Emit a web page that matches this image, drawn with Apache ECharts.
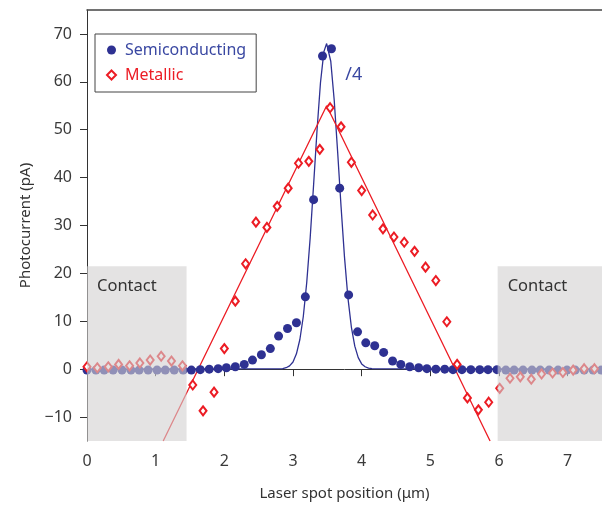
<!DOCTYPE html>
<html>
<head>
<meta charset="utf-8">
<script src="https://cdn.jsdelivr.net/npm/echarts@6/dist/echarts.min.js"></script>
<style>
  html, body { margin: 0; padding: 0; background: #fff; }
  #main { width: 602px; height: 507px; }
</style>
</head>
<body>
<div id="main"></div>
<script>
// semiconducting tube, measured points (plotted already divided by 4)
const semiX = [0, 0.13, 0.25, 0.38, 0.51, 0.64, 0.76, 0.89, 1.02, 1.14, 1.27, 1.40,
    1.52, 1.65, 1.78, 1.91, 2.03, 2.16, 2.29, 2.41, 2.54, 2.67, 2.79, 2.92, 3.05,
    3.18, 3.30, 3.43, 3.56, 3.68, 3.81, 3.94, 4.06, 4.19, 4.32, 4.45, 4.57, 4.70,
    4.83, 4.95, 5.08, 5.21, 5.33, 5.46, 5.59, 5.72, 5.84, 5.97, 6.10, 6.22, 6.35,
    6.48, 6.60, 6.73, 6.86, 6.99, 7.11, 7.24, 7.37, 7.49];
const semiY = [-0.2, -0.2, -0.2, -0.2, -0.2, -0.2, -0.2, -0.2, -0.2, -0.2, -0.2, -0.2,
    -0.2, -0.1, 0, 0.1, 0.3, 0.5, 1.0, 1.9, 3.0, 4.3, 6.9, 8.5, 9.7,
    15.1, 35.4, 65.4, 66.9, 37.8, 15.5, 7.8, 5.5, 4.9, 3.5, 1.7, 1.0, 0.5,
    0.3, 0.1, 0, 0, -0.1, -0.1, -0.1, -0.1, -0.1, -0.1, -0.2, -0.2, -0.2,
    -0.2, -0.2, -0.2, -0.2, -0.2, -0.2, -0.2, -0.2, -0.2];

// metallic tube, measured points
const metalX = [0, 0.15, 0.31, 0.46, 0.62, 0.77, 0.92, 1.08, 1.23, 1.39, 1.54, 1.69,
    1.85, 2.00, 2.16, 2.31, 2.46, 2.62, 2.77, 2.93, 3.08, 3.23, 3.39, 3.54, 3.70,
    3.85, 4.00, 4.16, 4.31, 4.47, 4.62, 4.77, 4.93, 5.08, 5.24, 5.39, 5.54, 5.70,
    5.85, 6.01, 6.16, 6.31, 6.47, 6.62, 6.78, 6.93, 7.08, 7.24, 7.39];
const metalY = [0.5, 0.3, 0.5, 1.0, 0.7, 1.3, 1.9, 2.7, 1.7, 0.7, -3.3, -8.7,
    -4.8, 4.3, 14.2, 22.0, 30.7, 29.6, 34.0, 37.8, 43.0, 43.4, 45.9, 54.6, 50.6,
    43.2, 37.3, 32.2, 29.3, 27.6, 26.5, 24.6, 21.3, 18.5, 9.9, 1.0, -6.0, -8.5,
    -6.9, -4.0, -1.9, -1.6, -2.1, -1.0, -0.8, -0.7, -0.2, 0.1, 0.1];

// fitted curves
const semiFitX = [0, 2.85, 2.9, 2.95, 3.0, 3.05, 3.1, 3.15, 3.2, 3.25, 3.3, 3.35, 3.4,
    3.45, 3.49, 3.55, 3.6, 3.65, 3.7, 3.75, 3.8, 3.85, 3.9, 3.95, 4.0, 4.05, 4.1, 4.15, 7.5];
const semiFitY = [0, 0.1, 0.3, 0.7, 1.5, 3.2, 6.2, 11.0, 18.1, 27.4, 38.5, 49.9, 59.8,
    66.3, 68, 64.3, 56.2, 45.4, 33.9, 23.4, 14.9, 8.8, 4.8, 2.4, 1.1, 0.5, 0.2, 0.1, 0];
const metalFitX = [1.11, 3.49, 5.87];
const metalFitY = [-15, 55, -15];

// contact regions [xStart, xEnd]
const contacts = [[0, 1.45], [5.98, 7.5]];
const contactTop = 21.5;

const xTicks = [0, 1, 2, 3, 4, 5, 6, 7];
const yTicks = [-10, 0, 10, 20, 30, 40, 50, 60, 70];

const BLUE = '#2e3192';
const RED = '#ec1c24';
const FONT = 'Noto Sans';

function pairs(xs, ys) {
    return xs.map((x, i) => [x, ys[i]]);
}

let chart = echarts.init(document.getElementById('main'));

let option = {
    animation: false,
    grid: { left: 87, right: 0, top: 10, bottom: 66 },
    legend: {
        orient: 'vertical',
        left: 95,
        top: 34,
        padding: [8, 10, 9, 11],
        itemGap: 9,
        itemWidth: 9,
        itemHeight: 9,
        borderColor: '#444',
        borderWidth: 1,
        textStyle: { fontFamily: FONT, fontSize: 16, lineHeight: 16, padding: [0, 0, 0, 4] },
        data: [
            { name: 'Semiconducting', textStyle: { color: '#3a48a2' } },
            { name: 'Metallic', textStyle: { color: RED } }
        ]
    },
    xAxis: [{
        type: 'value',
        min: 0,
        max: 7.5,
        name: 'Laser spot position (μm)',
        nameLocation: 'middle',
        nameGap: 45,
        nameTextStyle: { fontFamily: FONT, fontSize: 15, color: '#333' },
        axisLine: { lineStyle: { color: '#333', width: 1 } },
        axisTick: { show: true, length: 7, customValues: xTicks, lineStyle: { color: '#333' } },
        axisLabel: { customValues: xTicks, margin: 12, fontFamily: FONT, fontSize: 16, color: '#3a3a3a' },
        splitLine: { show: false }
    }, {
        type: 'value',
        position: 'top',
        min: 0,
        max: 7.5,
        axisLine: { show: true, lineStyle: { color: '#444', width: 1.5 } },
        axisTick: { show: false },
        axisLabel: { show: false },
        splitLine: { show: false }
    }],
    yAxis: {
        type: 'value',
        min: -15,
        max: 75,
        name: 'Photocurrent (pA)',
        nameLocation: 'middle',
        nameGap: 54,
        nameTextStyle: { fontFamily: FONT, fontSize: 15, color: '#333' },
        axisLine: { show: true, lineStyle: { color: '#333', width: 1 } },
        axisTick: { show: true, length: 7, customValues: yTicks, lineStyle: { color: '#333' } },
        axisLabel: {
            customValues: yTicks,
            margin: 15,
            fontFamily: FONT,
            fontSize: 16,
            color: '#3a3a3a',
            formatter: v => v < 0 ? '\u2212' + Math.abs(v) : String(v)
        },
        splitLine: { show: false }
    },
    series: [
        {
            name: 'semiFit',
            type: 'line',
            data: pairs(semiFitX, semiFitY),
            showSymbol: false,
            lineStyle: { color: BLUE, width: 1.3 },
            z: 1
        },
        {
            name: 'metalFit',
            type: 'line',
            data: pairs(metalFitX, metalFitY),
            showSymbol: false,
            lineStyle: { color: RED, width: 1.3 },
            z: 1
        },
        {
            name: 'Semiconducting',
            type: 'scatter',
            data: pairs(semiX, semiY),
            symbol: 'circle',
            symbolSize: 9,
            itemStyle: { color: BLUE, opacity: 1 },
            z: 3
        },
        {
            name: 'Metallic',
            type: 'scatter',
            data: pairs(metalX, metalY),
            symbol: 'diamond',
            symbolSize: [7, 9],
            itemStyle: { color: '#fff', borderColor: RED, borderWidth: 2, opacity: 1 },
            z: 4
        },
        {
            // grey contact boxes drawn over the data
            type: 'custom',
            data: contacts.map(c => [c[0], c[1], -15, contactTop]),
            encode: { x: [0, 1], y: [2, 3] },
            renderItem: function (params, api) {
                let p0 = api.coord([api.value(0), api.value(3)]);
                let p1 = api.coord([api.value(1), api.value(2)]);
                return {
                    type: 'group',
                    children: [{
                        type: 'rect',
                        shape: { x: p0[0], y: p0[1], width: p1[0] - p0[0], height: p1[1] - p0[1] },
                        style: { fill: 'rgba(210,208,208,0.6)' }
                    }, {
                        type: 'text',
                        x: p0[0] + 10,
                        y: p0[1] + 12,
                        style: { text: 'Contact', fill: '#333', font: '16.5px "Noto Sans"', verticalAlign: 'top' }
                    }]
                };
            },
            silent: true,
            z: 10
        },
        {
            // "/4" note next to the semiconducting peak
            type: 'custom',
            data: [[3.76, 61.4]],
            renderItem: function (params, api) {
                let p = api.coord([api.value(0), api.value(1)]);
                return {
                    type: 'text',
                    x: p[0],
                    y: p[1],
                    style: { text: '/4', fill: '#3a48a2', font: '18px "Noto Sans"', verticalAlign: 'middle' }
                };
            },
            silent: true,
            z: 10
        }
    ]
};

chart.setOption(option);
</script>
</body>
</html>
